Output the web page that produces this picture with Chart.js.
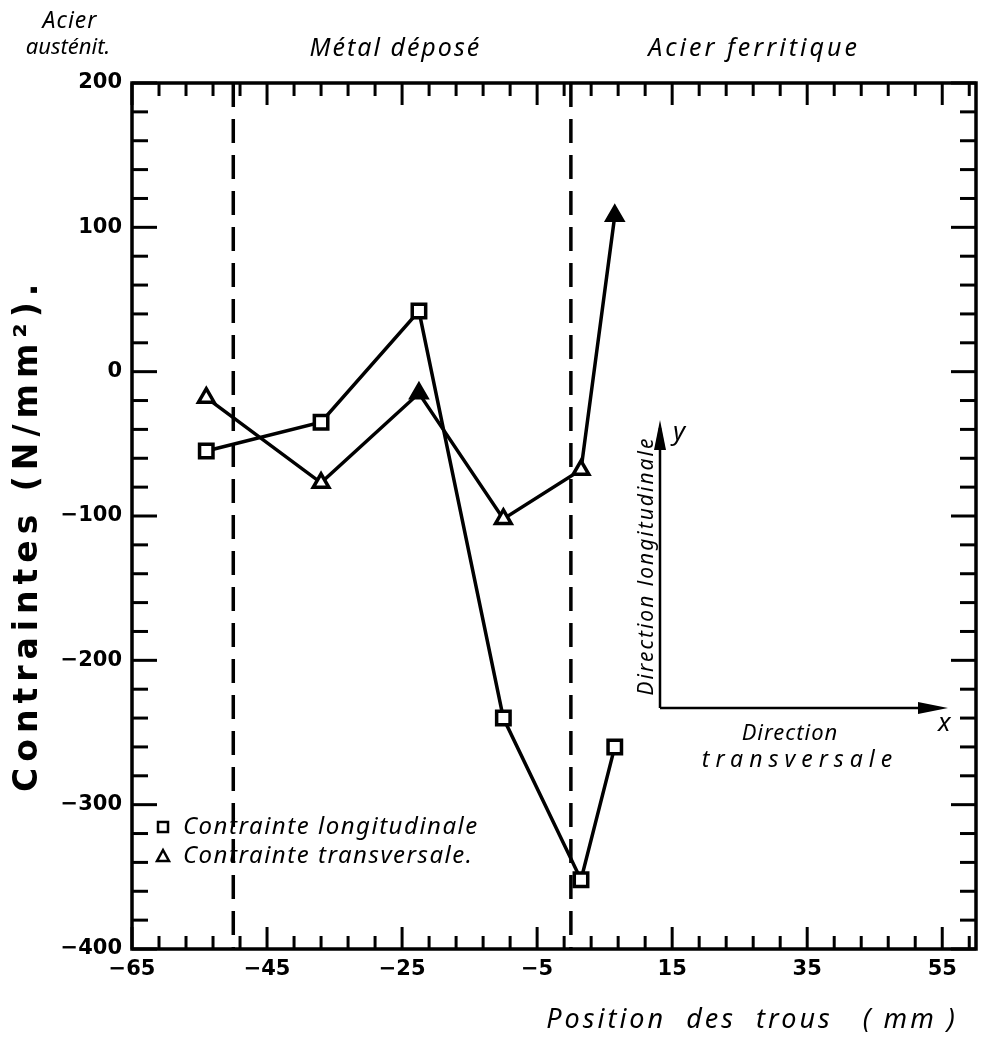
<!DOCTYPE html>
<html>
<head>
<meta charset="utf-8">
<script src="https://cdn.jsdelivr.net/npm/chart.js@4/dist/chart.umd.min.js"></script>
<style>
  html, body { margin: 0; padding: 0; background: #fff; }
  #wrap { width: 989px; height: 1047px; }
</style>
</head>
<body>
<div id="wrap"><canvas id="myChart"></canvas></div>
<script>
// positions of the holes (mm) and measured stresses (N/mm2)
const positions = [-54, -37, -22.5, -10, 1.5, 6.5];
const longitudinal = [-55, -35, 42, -240, -352, -260];
const transverse = [-18, -77, -15, -102, -68, 108];

const xTicks = [-65, -45, -25, -5, 15, 35, 55];
const yTicks = [-400, -300, -200, -100, 0, 100, 200];

// boundaries between the zones (dashed lines)
const zoneBounds = [-50, 0];

const hand = '"Noto Sans", sans-serif';
const block = '"DejaVu Sans", sans-serif';

function line(ctx, x1, y1, x2, y2) {
  ctx.beginPath();
  ctx.moveTo(x1, y1);
  ctx.lineTo(x2, y2);
  ctx.stroke();
}

function text(ctx, str, x, y, font, spacing) {
  ctx.font = font;
  ctx.letterSpacing = (spacing || 0) + 'px';
  ctx.fillText(str, x, y);
}

// frame, inward ticks on the four sides and the dashed zone lines
const framePlugin = {
  id: 'framePlugin',
  beforeDatasetsDraw(chart) {
    const {ctx, chartArea: a, scales: {x, y}} = chart;
    ctx.save();
    ctx.strokeStyle = '#000';
    ctx.lineWidth = 3.5;
    ctx.strokeRect(a.left, a.top, a.right - a.left, a.bottom - a.top);

    ctx.lineWidth = 3;
    for (let v = x.min; v < x.max; v += 4) {
      const px = x.getPixelForValue(v);
      const len = (v - x.min) % 20 === 0 ? 22 : 13;
      line(ctx, px, a.bottom, px, a.bottom - len);
      line(ctx, px, a.top, px, a.top + len);
    }
    for (let v = y.min; v <= y.max; v += 20) {
      const py = y.getPixelForValue(v);
      const len = v % 100 === 0 ? 25 : 16;
      line(ctx, a.left, py, a.left + len, py);
      line(ctx, a.right, py, a.right - len, py);
    }

    ctx.lineWidth = 3.5;
    ctx.setLineDash([24, 12]);
    zoneBounds.forEach(b => {
      const px = x.getPixelForValue(b);
      line(ctx, px, a.top, px, a.bottom);
    });
    ctx.restore();
  },
  afterDraw(chart) {
    const {ctx, chartArea: a, scales: {x}} = chart;
    ctx.save();
    ctx.fillStyle = '#000';
    ctx.strokeStyle = '#000';
    ctx.textBaseline = 'alphabetic';
    ctx.textAlign = 'center';

    // zone names above the frame
    text(ctx, 'Acier', 70, 28, 'italic 23px ' + hand, 1);
    text(ctx, 'austénit.', 68, 54, 'italic 22px ' + hand, 0);
    text(ctx, 'Métal déposé', x.getPixelForValue(-26), 56, 'italic 25px ' + hand, 2);
    text(ctx, 'Acier ferritique', 754, 56, 'italic 25px ' + hand, 3);

    // axis titles
    text(ctx, 'Position  des  trous   ( mm )', 752, 1028, 'italic 27px ' + hand, 3);
    ctx.save();
    ctx.translate(28, 792);
    ctx.rotate(-Math.PI / 2);
    ctx.textBaseline = 'middle';
    ctx.textAlign = 'left';
    text(ctx, 'Contraintes (N/mm²).', 0, 0, 'bold 33px ' + block, 6);
    ctx.restore();

    // legend
    const lx = a.left + 31;
    const rows = [a.bottom - 122, a.bottom - 93];
    ctx.lineWidth = 2.5;
    ctx.strokeRect(lx - 5, rows[0] - 5, 10, 10);
    ctx.beginPath();
    ctx.moveTo(lx - 6, rows[1] + 5);
    ctx.lineTo(lx + 6, rows[1] + 5);
    ctx.lineTo(lx, rows[1] - 6);
    ctx.closePath();
    ctx.stroke();
    ctx.textAlign = 'left';
    ctx.textBaseline = 'middle';
    chart.data.datasets.forEach((ds, i) =>
      text(ctx, ds.label, lx + 20, rows[i], 'italic 24px ' + hand, 1.5));

    // small x / y direction sketch
    const ox = 660, oy = 708;
    ctx.lineWidth = 2.5;
    line(ctx, ox, oy, ox, 428);
    line(ctx, ox, oy, 935, oy);
    ctx.beginPath();
    ctx.moveTo(ox, 420); ctx.lineTo(ox - 6, 450); ctx.lineTo(ox + 6, 450); ctx.closePath();
    ctx.fill();
    ctx.beginPath();
    ctx.moveTo(948, oy); ctx.lineTo(918, oy - 6); ctx.lineTo(918, oy + 6); ctx.closePath();
    ctx.fill();

    text(ctx, 'y', 673, 433, 'italic 26px ' + hand, 0);
    text(ctx, 'x', 938, 724, 'italic 26px ' + hand, 0);
    ctx.textAlign = 'center';
    text(ctx, 'Direction', 790, 734, 'italic 22px ' + hand, 1);
    text(ctx, 'transversale', 800, 760, 'italic 23px ' + hand, 6);

    ctx.translate(647, 566);
    ctx.rotate(-Math.PI / 2);
    text(ctx, 'Direction longitudinale', 0, 0, 'italic 21px ' + hand, 2);
    ctx.restore();
  }
};

const tickFont = { family: block, weight: 'bold', size: 21 };
const minus = v => String(v).replace('-', '−');

const ctx = document.getElementById('myChart').getContext('2d');
const chart = new Chart(ctx, {
  type: 'line',
  data: {
    datasets: [
      {
        label: 'Contrainte longitudinale',
        data: positions.map((p, i) => ({x: p, y: longitudinal[i]})),
        borderColor: '#000',
        borderWidth: 3.5,
        pointStyle: 'rect',
        pointRadius: 9.5,
        pointBorderWidth: 3.5,
        pointBackgroundColor: '#fff',
        pointBorderColor: '#000',
        tension: 0
      },
      {
        label: 'Contrainte transversale.',
        data: positions.map((p, i) => ({x: p, y: transverse[i]})),
        borderColor: '#000',
        borderWidth: 3.5,
        pointStyle: 'triangle',
        pointRadius: 9,
        pointBorderWidth: 3.5,
        pointBackgroundColor: ['#fff', '#fff', '#000', '#fff', '#fff', '#000'],
        pointBorderColor: '#000',
        tension: 0
      }
    ]
  },
  plugins: [framePlugin],
  options: {
    responsive: true,
    maintainAspectRatio: false,
    animation: false,
    layout: { padding: { top: 83, right: 9, left: 0, bottom: 0 } },
    plugins: {
      legend: { display: false },
      tooltip: { enabled: false }
    },
    scales: {
      x: {
        type: 'linear',
        min: -65,
        max: 60,
        afterBuildTicks: s => { s.ticks = xTicks.map(v => ({value: v})); },
        afterFit: s => { s.height = 98; },
        grid: { display: false, drawTicks: false },
        border: { display: false },
        ticks: { padding: 8, color: '#000', font: tickFont, callback: minus }
      },
      y: {
        min: -400,
        max: 200,
        afterBuildTicks: s => { s.ticks = yTicks.map(v => ({value: v})); },
        afterFit: s => { s.width = 132; },
        grid: { display: false, drawTicks: false },
        border: { display: false },
        ticks: { padding: 10, color: '#000', font: tickFont, callback: minus }
      }
    }
  }
});
</script>
</body>
</html>
